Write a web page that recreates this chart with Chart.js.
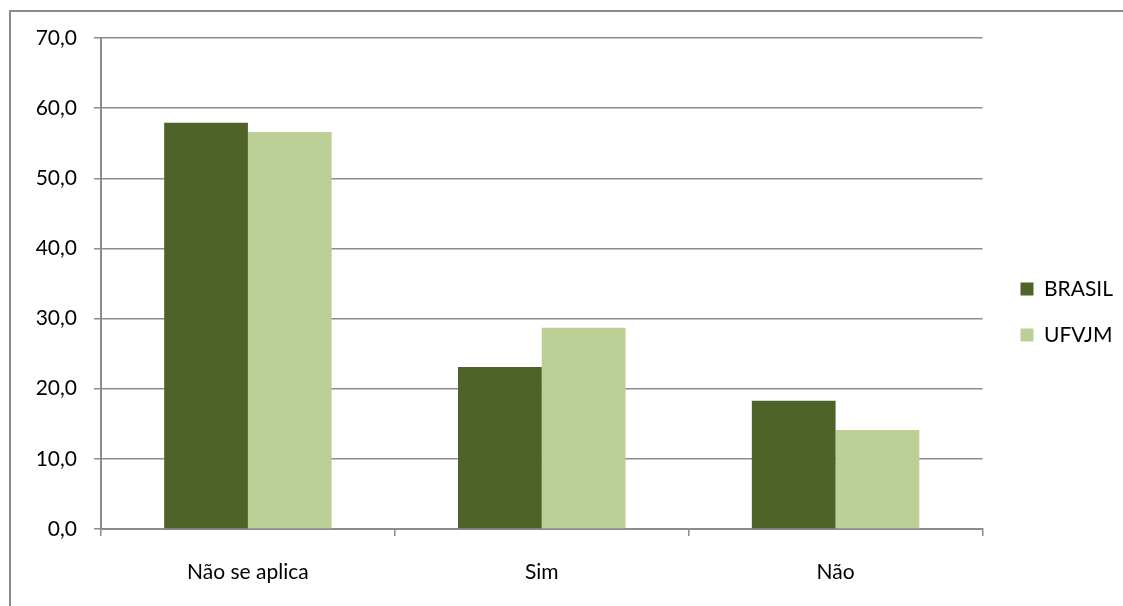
<!DOCTYPE html>
<html>
<head>
<meta charset="utf-8">
<script src="https://cdn.jsdelivr.net/npm/chart.js@4.4.1/dist/chart.umd.min.js"></script>
<style>
  html, body { margin: 0; padding: 0; background: #fff; }
  #wrap { width: 1123px; height: 606px; position: relative; }
</style>
</head>
<body>
<div id="wrap"><canvas id="chart"></canvas></div>
<script>
const categories = ["Não se aplica", "Sim", "Não"];
const brasilValues = [57.9, 23.1, 18.3];
const ufvjmValues = [56.6, 28.7, 14.1];
const yTicks = [0, 10, 20, 30, 40, 50, 60, 70];

const gridGray = "#8c8c8c";
const font = { family: "Lato, 'DejaVu Sans', sans-serif", size: 21 };

// grey frame at left and top, like the exported chart object
const framePlugin = {
  id: "frame",
  beforeDraw(chart) {
    const ctx = chart.ctx;
    ctx.save();
    ctx.strokeStyle = gridGray;
    ctx.lineWidth = 2;
    ctx.beginPath();
    ctx.moveTo(10, 606);
    ctx.lineTo(10, 11);
    ctx.lineTo(1123, 11);
    ctx.stroke();
    ctx.restore();
  }
};

// nudge the legend a bit further from the plot, as in the original
const legendNudge = {
  id: "legendNudge",
  afterLayout(chart) {
    const lg = chart.legend;
    lg.left += 13;
    lg.right += 13;
    lg.top -= 10;
    lg.bottom -= 10;
  }
};

new Chart(document.getElementById("chart"), {
  type: "bar",
  data: {
    labels: categories,
    datasets: [
      { label: "BRASIL", data: brasilValues, backgroundColor: "#4f6228" },
      { label: "UFVJM", data: ufvjmValues, backgroundColor: "#bbcf97" }
    ]
  },
  plugins: [framePlugin, legendNudge],
  options: {
    responsive: true,
    maintainAspectRatio: false,
    animation: false,
    layout: { padding: { left: 12, top: 38, right: 13, bottom: 0 } },
    datasets: {
      bar: { categoryPercentage: 0.57, barPercentage: 1.0 }
    },
    plugins: {
      tooltip: { enabled: false },
      legend: {
        position: "right",
        labels: {
          color: "#000",
          font: font,
          boxWidth: 13,
          boxHeight: 13,
          padding: 25
        }
      }
    },
    scales: {
      x: {
        afterFit: (scale) => { scale.height = 77; },
        grid: {
          drawOnChartArea: false,
          drawTicks: true,
          tickLength: 7,
          color: gridGray,
          lineWidth: 1.5
        },
        border: { color: gridGray, width: 2 },
        ticks: { color: "#000", font: font, padding: 24 }
      },
      y: {
        min: 0,
        max: 70,
        afterFit: (scale) => { scale.width = 89; },
        afterBuildTicks: (scale) => { scale.ticks = yTicks.map((v) => ({ value: v })); },
        grid: { color: gridGray, lineWidth: 1.5, tickLength: 7 },
        border: { color: gridGray, width: 2 },
        ticks: {
          color: "#000",
          font: font,
          padding: 17,
          callback: (value) => value.toFixed(1).replace(".", ",")
        }
      }
    }
  }
});
</script>
</body>
</html>
